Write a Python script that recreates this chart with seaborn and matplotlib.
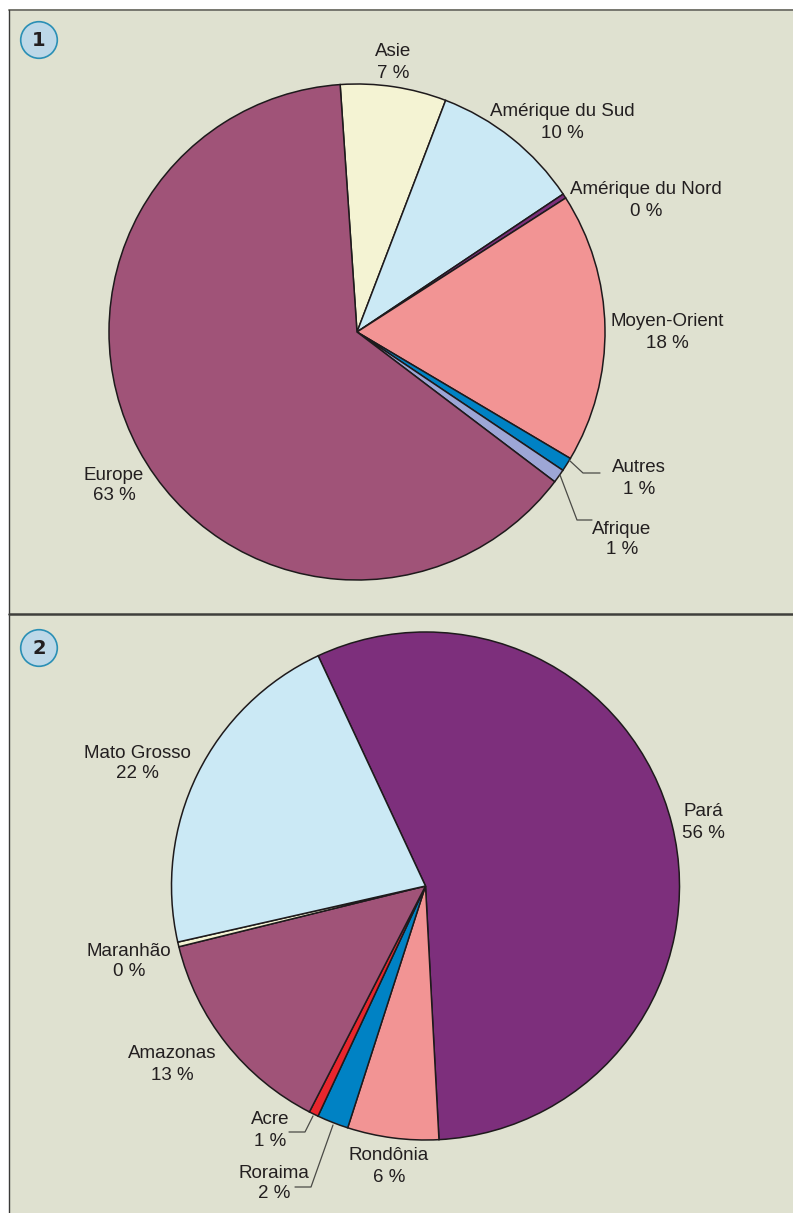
import matplotlib
matplotlib.use("Agg")
import matplotlib.pyplot as plt
import seaborn as sns
from matplotlib.patches import Circle, Rectangle

W, H = 793, 1213

# panel 1, clockwise from Asie
labels_1 = ["Asie", "Amérique du Sud", "Amérique du Nord", "Moyen-Orient", "Autres", "Afrique", "Europe"]
shown_1 = ["7 %", "10 %", "0 %", "18 %", "1 %", "1 %", "63 %"]
values_1 = [6.9, 9.8, 0.3, 17.6, 0.9, 0.9, 63.6]
colors_1 = ["#F4F3D3", "#CBE9F5", "#7D2F7C", "#F29494", "#0082C4", "#9DA6D6", "#A05378"]
label_x_1 = [393, 562, 646, 667, 639, 622, 114]
label_y_1 = [52, 112, 190, 322, 468, 529, 475]

# panel 2, clockwise from Pará
labels_2 = ["Pará", "Rondônia", "Roraima", "Acre", "Amazonas", "Maranhão", "Mato Grosso"]
shown_2 = ["56 %", "6 %", "2 %", "1 %", "13 %", "0 %", "22 %"]
values_2 = [56.1, 5.8, 2.0, 0.6, 13.6, 0.3, 21.6]
colors_2 = ["#7D2F7C", "#F29494", "#0082C4", "#E8262D", "#A05378", "#F4F3D3", "#CBE9F5"]
label_x_2 = [703, 389, 274, 270, 172, 129, 137]
label_y_2 = [812, 1156, 1173, 1120, 1054, 951, 753]

BG = "#DFE1D0"
INK = "#231F20"

sns.set_theme(style="white")
plt.rcParams["font.family"] = ["Liberation Sans", "DejaVu Sans"]

fig = plt.figure(figsize=(W / 100, H / 100), dpi=100)
ax = fig.add_axes([0, 0, 1, 1])
ax.set_xlim(0, W)
ax.set_ylim(0, H)
ax.axis("off")


def fy(y):
    # picture rows run downwards, the axes upwards
    return H - y


ax.add_patch(Rectangle((9, 0), W - 9, fy(10), fc=BG, ec="none", zorder=0))
ax.plot([9, W], [fy(10), fy(10)], color="#77776F", lw=1.4, zorder=1)
ax.plot([9, 9], [0, fy(10)], color="#3A3A38", lw=1.0, zorder=1)
ax.plot([9, W], [fy(613.5), fy(613.5)], color="#3F3F3C", lw=1.8, zorder=1)


def draw_pie(values, colors, center, radius, start):
    ax.pie(values, colors=colors, center=(center[0], fy(center[1])), radius=radius,
           startangle=start, counterclock=False, frame=True,
           wedgeprops={"edgecolor": "#1E1A1C", "linewidth": 1.1})


def draw_labels(labels, shown, xs, ys):
    for name, pct, x, y in zip(labels, shown, xs, ys):
        ax.text(x, fy(y), name, ha="center", va="center", fontsize=13.5, color=INK)
        ax.text(x, fy(y + 21), pct, ha="center", va="center", fontsize=13.5, color=INK)


draw_pie(values_1, colors_1, (357, 332), 248, 93.9)
draw_pie(values_2, colors_2, (425.5, 886), 254, 115)
ax.set_xlim(0, W)
ax.set_ylim(0, H)
ax.set_aspect("equal")
ax.axis("off")

draw_labels(labels_1, shown_1, label_x_1, label_y_1)
draw_labels(labels_2, shown_2, label_x_2, label_y_2)

# leader lines
leaders = [
    ([569, 583, 600], [460, 473, 473]),
    ([560, 577, 592], [475, 520, 520]),
    ([313, 305, 289], [1116, 1132, 1132]),
    ([333, 311, 295], [1125, 1187, 1187]),
]
for xs, ys in leaders:
    ax.plot(xs, [fy(v) for v in ys], color="#4A4A46", lw=0.9, zorder=3)

# panel badges
for num, cy in [("1", 40), ("2", 648)]:
    ax.add_patch(Circle((39, fy(cy)), 18.3, fc="#BDD8E8", ec="#2A8FB5", lw=1.2, zorder=3))
    ax.text(39, fy(cy), num, ha="center", va="center", fontsize=14, fontweight="bold",
            family=["DejaVu Sans"], color=INK, zorder=4)

fig.savefig("out.png", dpi=100, facecolor="white")
